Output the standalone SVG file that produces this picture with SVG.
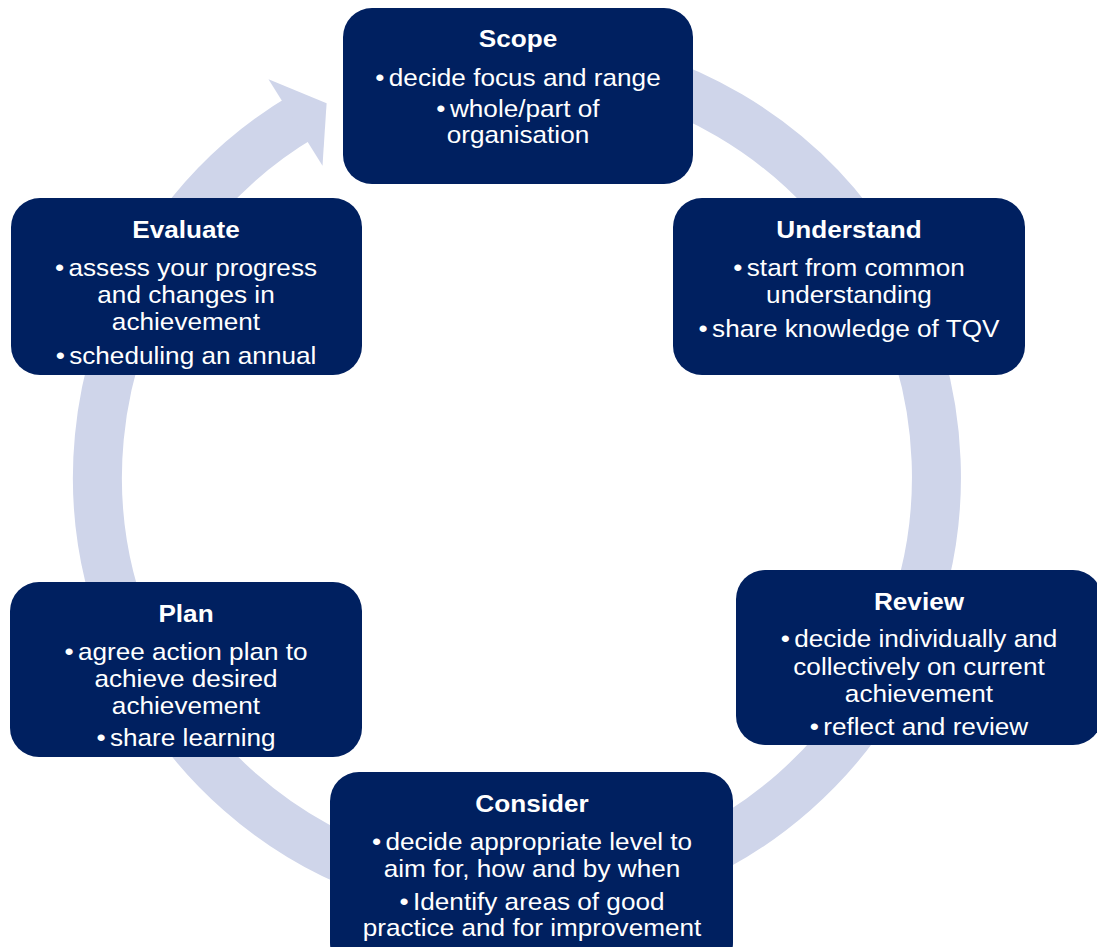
<svg xmlns="http://www.w3.org/2000/svg" width="1097" height="947" viewBox="0 0 1097 947">
  <style>
    .box { fill: #002060; }
    .ring { fill: none; stroke: #CFD5EA; stroke-width: 49; stroke-linecap: butt; }
    .head { fill: #CFD5EA; }
    text { fill: #FFFFFF; font-family: "Liberation Sans", Arial, sans-serif; font-size: 24px; text-anchor: middle; }
    .title { font-weight: bold; }
  </style>

  <rect width="1097" height="947" fill="#FFFFFF"/>

  <!-- circular flow arrow behind the stages -->
  <g id="connectors">
    <path class="ring" d="M 553.6 59.1 A 419.5 419.5 0 1 1 304.1 115.5"/>
    <polygon class="head" points="268.5,79.3 326.6,103.2 322.5,165.8"/>
  </g>

  <g id="scope">
    <rect class="box" x="343" y="8" width="350" height="176" rx="29"/>
    <g transform="translate(518 0) scale(1.09 1)">
      <text class="title" x="0" y="47">Scope</text>
      <text x="0" y="86">•<tspan dx="4">decide focus and range</tspan></text>
      <text x="0" y="117">•<tspan dx="4">whole/part of</tspan></text>
      <text x="0" y="143">organisation</text>
    </g>
  </g>

  <g id="understand">
    <rect class="box" x="673" y="198" width="352" height="177" rx="29"/>
    <g transform="translate(849 0) scale(1.09 1)">
      <text class="title" x="0" y="238">Understand</text>
      <text x="0" y="276">•<tspan dx="4">start from common</tspan></text>
      <text x="0" y="303">understanding</text>
      <text x="0" y="337">•<tspan dx="4">share knowledge of TQV</tspan></text>
    </g>
  </g>

  <g id="review">
    <rect class="box" x="736" y="570" width="366" height="175" rx="29"/>
    <g transform="translate(919 0) scale(1.09 1)">
      <text class="title" x="0" y="610">Review</text>
      <text x="0" y="647">•<tspan dx="4">decide individually and</tspan></text>
      <text x="0" y="675">collectively on current</text>
      <text x="0" y="702">achievement</text>
      <text x="0" y="735">•<tspan dx="4">reflect and review</tspan></text>
    </g>
  </g>

  <g id="consider">
    <rect class="box" x="330" y="772" width="403" height="200" rx="29"/>
    <g transform="translate(532 0) scale(1.09 1)">
      <text class="title" x="0" y="812">Consider</text>
      <text x="0" y="850">•<tspan dx="4">decide appropriate level to</tspan></text>
      <text x="0" y="877">aim for, how and by when</text>
      <text x="0" y="910">•<tspan dx="4">Identify areas of good</tspan></text>
      <text x="0" y="936">practice and for improvement</text>
    </g>
  </g>

  <g id="plan">
    <rect class="box" x="10" y="582" width="352" height="175" rx="29"/>
    <g transform="translate(186 0) scale(1.09 1)">
      <text class="title" x="0" y="622">Plan</text>
      <text x="0" y="660">•<tspan dx="4">agree action plan to</tspan></text>
      <text x="0" y="687">achieve desired</text>
      <text x="0" y="714">achievement</text>
      <text x="0" y="746">•<tspan dx="4">share learning</tspan></text>
    </g>
  </g>

  <g id="evaluate">
    <rect class="box" x="11" y="198" width="351" height="177" rx="29"/>
    <g transform="translate(186 0) scale(1.09 1)">
      <text class="title" x="0" y="238">Evaluate</text>
      <text x="0" y="276">•<tspan dx="4">assess your progress</tspan></text>
      <text x="0" y="303">and changes in</text>
      <text x="0" y="330">achievement</text>
      <text x="0" y="364">•<tspan dx="4">scheduling an annual</tspan></text>
    </g>
  </g>
</svg>
